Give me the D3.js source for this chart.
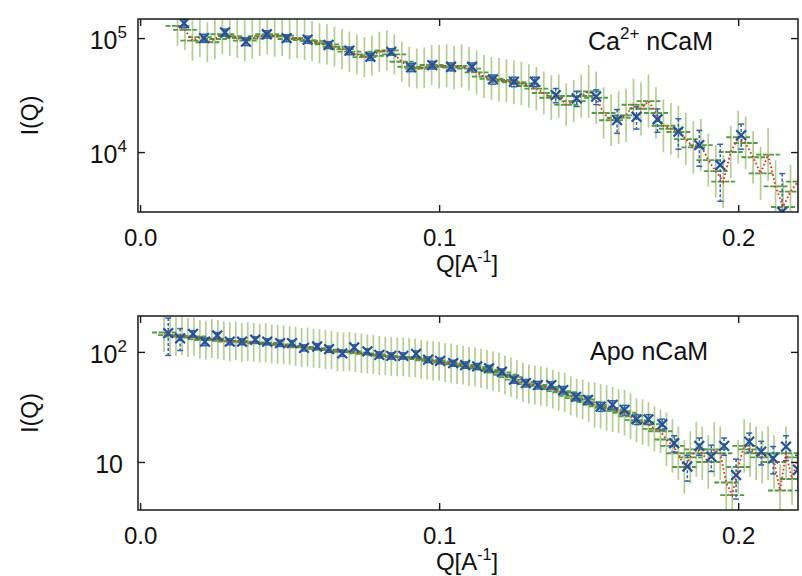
<!DOCTYPE html>
<html>
<head>
<meta charset="utf-8">
<script src="https://cdn.jsdelivr.net/npm/d3@7.9.0/dist/d3.min.js"></script>
<style>
  body { margin: 0; background: #fff; }
  svg { display: block; font-family: "Liberation Sans", Arial, sans-serif; }
</style>
</head>
<body>
<svg id="chart" width="802" height="576"></svg>
<script>
// ---- Ca2+ nCaM (top panel) ----
const caGreenQ = [0.0125, 0.015, 0.0175, 0.02, 0.0225, 0.025, 0.0275, 0.03, 0.0325, 0.035,
  0.0375, 0.04, 0.0425, 0.045, 0.0475, 0.05, 0.0525, 0.055, 0.0575, 0.06,
  0.0625, 0.065, 0.0675, 0.07, 0.0725, 0.075, 0.0775, 0.08, 0.0825, 0.085,
  0.0875, 0.09, 0.0925, 0.095, 0.0975, 0.1, 0.1025, 0.105, 0.1075, 0.11,
  0.1125, 0.115, 0.1175, 0.12, 0.1225, 0.125, 0.1275, 0.13, 0.1325, 0.135,
  0.1375, 0.14, 0.1425, 0.145, 0.1475, 0.15, 0.1525, 0.155, 0.1575, 0.16,
  0.1625, 0.165, 0.1675, 0.17, 0.1725, 0.175, 0.1775, 0.18, 0.1825, 0.185,
  0.1875, 0.19, 0.1925, 0.195, 0.1975, 0.2, 0.2025, 0.205, 0.2075, 0.21,
  0.2125, 0.215, 0.2175, 0.22];
const caGreenI = [128e3, 118e3, 95e3, 102e3, 92e3, 98e3, 108e3, 104e3, 100e3, 95e3,
  99e3, 104e3, 108e3, 103e3, 105e3, 98e3, 100e3, 96e3, 94e3, 90e3,
  88e3, 84e3, 80e3, 76e3, 72e3, 68e3, 70e3, 76e3, 78e3, 72e3,
  62e3, 56e3, 54e3, 55e3, 58e3, 56e3, 57e3, 55e3, 57e3, 54e3,
  50e3, 46e3, 44e3, 43e3, 42e3, 41e3, 40e3, 38e3, 36e3, 33e3,
  30e3, 31e3, 26e3, 28e3, 31e3, 34e3, 30e3, 22e3, 19e3, 20e3,
  21e3, 26e3, 24e3, 28e3, 22e3, 17e3, 16e3, 15e3, 13e3, 11e3,
  11.5e3, 8.5e3, 6.8e3, 5.5e3, 10e3, 13.5e3, 12e3, 9e3, 6.5e3, 9.5e3,
  5e3, 3.3e3, 4.5e3, 5.5e3];
const caGreenErr = [64e3, 59e3, 48e3, 51e3, 46e3, 49e3, 54e3, 52e3, 50e3, 48e3,
  50e3, 52e3, 54e3, 52e3, 53e3, 49e3, 50e3, 48e3, 47e3, 45e3,
  44e3, 42e3, 40e3, 38e3, 36e3, 34e3, 35e3, 38e3, 39e3, 36e3,
  31e3, 28e3, 27e3, 28e3, 29e3, 31e3, 31e3, 30e3, 31e3, 30e3,
  28e3, 25e3, 24e3, 24e3, 23e3, 23e3, 22e3, 21e3, 20e3, 18e3,
  17e3, 17e3, 14e3, 15e3, 17e3, 24e3, 21e3, 15e3, 13e3, 14e3,
  15e3, 18e3, 17e3, 20e3, 15e3, 12e3, 11e3, 10.5e3, 9e3, 7.7e3,
  8e3, 6e3, 4.8e3, 3.9e3, 7e3, 9.5e3, 8.4e3, 6.3e3, 4.6e3, 6.7e3,
  3.5e3, 2.3e3, 3.2e3, 3.9e3];
const caGreenDq = 0.004;

const caBlueQ = [0.0147, 0.0214, 0.0284, 0.0354, 0.0424, 0.049, 0.056, 0.063, 0.070, 0.077,
  0.084, 0.0906, 0.0977, 0.104, 0.111, 0.118, 0.125, 0.132, 0.139, 0.146,
  0.1525, 0.1595, 0.166, 0.173, 0.180, 0.187, 0.194, 0.201, 0.2147];
const caBlueI = [135e3, 100e3, 112e3, 93e3, 108e3, 100e3, 97e3, 87e3, 77.5e3, 68.6e3,
  75.8e3, 55.3e3, 58e3, 56e3, 56e3, 43.4e3, 41.4e3, 41.4e3, 31.6e3, 29.6e3,
  30.6e3, 19.1e3, 20.4e3, 19.4e3, 15.1e3, 11.5e3, 7.7e3, 14.1e3, 2.98e3];
const caBlueErr = [12e3, 8e3, 8e3, 7e3, 8e3, 7e3, 7e3, 6e3, 6e3, 5e3,
  5e3, 4.5e3, 4.5e3, 4.5e3, 4.5e3, 4e3, 4e3, 4e3, 4.5e3, 4.5e3,
  4.5e3, 4.5e3, 4.5e3, 4.5e3, 4.5e3, 4e3, 4e3, 3.5e3, 3.5e3];

// ---- Apo nCaM (bottom panel) ----
const apoGreenQ = [0.008, 0.010, 0.012, 0.014, 0.016, 0.018, 0.020, 0.022, 0.024, 0.026,
  0.028, 0.030, 0.032, 0.034, 0.036, 0.038, 0.040, 0.042, 0.044, 0.046,
  0.048, 0.050, 0.052, 0.054, 0.056, 0.058, 0.060, 0.062, 0.064, 0.066,
  0.068, 0.070, 0.072, 0.074, 0.076, 0.078, 0.080, 0.082, 0.084, 0.086,
  0.088, 0.090, 0.092, 0.094, 0.096, 0.098, 0.100, 0.102, 0.104, 0.106,
  0.108, 0.110, 0.112, 0.114, 0.116, 0.118, 0.120, 0.122, 0.124, 0.126,
  0.128, 0.130, 0.132, 0.134, 0.136, 0.138, 0.140, 0.142, 0.144, 0.146,
  0.148, 0.150, 0.152, 0.154, 0.156, 0.158, 0.160, 0.162, 0.164, 0.166,
  0.168, 0.170, 0.172, 0.174, 0.176, 0.178, 0.180, 0.182, 0.184, 0.186,
  0.188, 0.190, 0.192, 0.194, 0.196, 0.198, 0.200, 0.202, 0.204, 0.206,
  0.208, 0.210, 0.212, 0.214, 0.216, 0.218, 0.220];
const apoGreenI = [150, 142, 138, 140, 135, 138, 130, 128, 132, 130,
  126, 124, 126, 122, 124, 122, 120, 121, 118, 117,
  116, 114, 112, 110, 111, 108, 107, 105, 104, 101,
  100, 101, 99, 97, 96, 95, 93, 92, 91, 90,
  90, 89, 88, 86, 84, 83, 82, 80, 79, 77,
  76, 74, 73, 71, 69, 67, 65, 62, 59, 56,
  53, 51, 50, 49, 48, 46, 44, 43, 40, 38,
  37, 35, 33, 32, 31, 30, 29, 28, 26, 24,
  23, 22, 20, 19, 16, 14, 12, 9, 11, 13,
  12, 10, 13, 12, 6.5, 5, 9, 14, 13, 12,
  11, 12, 10, 5.5, 12, 7, 11];
const apoGreenErr = [75, 71, 69, 70, 68, 69, 65, 64, 66, 65,
  63, 62, 63, 61, 62, 61, 60, 61, 59, 59,
  58, 57, 56, 55, 56, 54, 54, 53, 52, 51,
  50, 51, 50, 49, 48, 48, 47, 46, 46, 45,
  45, 45, 44, 43, 42, 42, 41, 40, 40, 39,
  38, 37, 37, 36, 35, 34, 33, 31, 30, 28,
  27, 26, 25, 25, 24, 23, 22, 22, 20, 19,
  19, 18, 20, 19, 19, 18, 17, 17, 16, 14,
  14, 13, 12, 11, 12, 10.5, 9, 6.8, 8, 10,
  9, 7.5, 10, 9, 4.9, 3.8, 6.8, 10.5, 10, 9,
  8, 9, 7.5, 4, 9, 5, 8];
const apoGreenDq = 0.004;

const apoBlueQ = [0.0094, 0.0134, 0.0177, 0.0217, 0.0258, 0.030, 0.0341, 0.0385, 0.0425, 0.0468,
  0.0508, 0.0548, 0.0592, 0.0632, 0.0676, 0.0716, 0.076, 0.080, 0.084, 0.088,
  0.0923, 0.0963, 0.1003, 0.1047, 0.1087, 0.1127, 0.1167, 0.121, 0.125, 0.129,
  0.133, 0.1375, 0.1415, 0.1458, 0.1498, 0.154, 0.158, 0.162, 0.166, 0.170,
  0.1746, 0.1786, 0.183, 0.187, 0.191, 0.1953, 0.1993, 0.2037, 0.2077, 0.2117,
  0.216, 0.220];
const apoBlueI = [148, 133, 146, 124, 141, 124, 124, 129, 124, 120,
  120, 109, 112, 106, 97, 110, 101, 94, 92, 92,
  96, 85, 83, 79, 76, 74, 71, 66, 56, 52,
  50, 50, 45, 39, 36.6, 31.8, 33, 29.7, 24.4, 24.4,
  22, 14.8, 9.1, 14, 11.2, 14, 7.6, 15.3, 12.4, 10.8,
  13.8, 8.5];
const apoBlueErr = [55, 30, 10, 10, 9, 8, 8, 8, 8, 8,
  7, 7, 7, 7, 6, 6, 6, 6, 6, 6,
  6, 5, 5, 5, 5, 4.5, 4.5, 4, 4, 4,
  4, 3.5, 3.5, 3, 3, 3, 3, 3, 2.5, 2.5,
  2.5, 2.5, 2.4, 2.5, 3, 2.5, 3, 3, 3, 3,
  3.5, 3];

// axis ticks
const xTicks = [0, 0.1, 0.2];
const caYTicks = [1e4, 1e5];
const caYTickSup = ["4", "5"];
const apoYTicks = [10, 100];
const apoYTickSup = ["", "2"];

const svg = d3.select("#chart");
const defs = svg.append("defs");

const panels = [
  { id: "ca", top: 19, bottom: 212, yDomain: [2980, 1.47e5],
    greenQ: caGreenQ, greenI: caGreenI, greenErr: caGreenErr, dq: caGreenDq,
    blueQ: caBlueQ, blueI: caBlueI, blueErr: caBlueErr,
    yTicks: caYTicks, yTickSup: caYTickSup,
    title: ["Ca", "2+", " nCaM"], titleX: 588, titleY: 50 },
  { id: "apo", top: 316, bottom: 510, yDomain: [3.66, 212],
    greenQ: apoGreenQ, greenI: apoGreenI, greenErr: apoGreenErr, dq: apoGreenDq,
    blueQ: apoBlueQ, blueI: apoBlueI, blueErr: apoBlueErr,
    yTicks: apoYTicks, yTickSup: apoYTickSup,
    title: ["Apo nCaM", "", ""], titleX: 590, titleY: 360 }
];

panels.forEach(drawPanel);

function drawPanel(p) {
  const left = 138, right = 798;
  const x = d3.scaleLinear().domain([-0.0007, 0.22]).range([left, right]);
  const y = d3.scaleLog().domain(p.yDomain).range([p.bottom, p.top]);
  const floor = p.yDomain[0] * 0.3;

  defs.append("clipPath").attr("id", "clip-" + p.id)
    .append("rect")
    .attr("x", left).attr("y", p.top)
    .attr("width", right - left).attr("height", p.bottom - p.top);

  const g = svg.append("g");
  const plot = g.append("g").attr("clip-path", `url(#clip-${p.id})`);

  const green = p.greenQ.map((q, i) => ({ q, v: p.greenI[i], e: p.greenErr[i] }));
  const blue = p.blueQ.map((q, i) => ({ q, v: p.blueI[i], e: p.blueErr[i] }));

  // green vertical error bars (drawn symmetric on the log axis)
  plot.selectAll(".gv").data(green).join("line")
    .attr("class", "gv")
    .attr("x1", d => x(d.q)).attr("x2", d => x(d.q))
    .attr("y1", d => y(d.v + d.e))
    .attr("y2", d => y(d.v * d.v / (d.v + d.e)))
    .attr("stroke", "#adc883").attr("stroke-width", 1.7).attr("stroke-opacity", 0.9);

  // green horizontal (dashed) bars
  plot.selectAll(".gh").data(green).join("line")
    .attr("class", "gh")
    .attr("x1", d => x(d.q - p.dq)).attr("x2", d => x(d.q + p.dq))
    .attr("y1", d => y(d.v)).attr("y2", d => y(d.v))
    .attr("stroke", "#4f9e3d").attr("stroke-width", 1.9)
    .attr("stroke-dasharray", "5,1.5");

  // blue dashed error bars with caps
  const be = plot.selectAll(".be").data(blue).join("g").attr("class", "be")
    .attr("stroke", "#2d63b6").attr("stroke-width", 1.5);
  be.append("line")
    .attr("x1", d => x(d.q)).attr("x2", d => x(d.q))
    .attr("y1", d => y(d.v + d.e)).attr("y2", d => y(Math.max(d.v - d.e, floor)))
    .attr("stroke-dasharray", "3,2");
  be.append("line")
    .attr("x1", d => x(d.q) - 3).attr("x2", d => x(d.q) + 3)
    .attr("y1", d => y(d.v + d.e)).attr("y2", d => y(d.v + d.e));
  be.append("line")
    .attr("x1", d => x(d.q) - 3).attr("x2", d => x(d.q) + 3)
    .attr("y1", d => y(Math.max(d.v - d.e, floor))).attr("y2", d => y(Math.max(d.v - d.e, floor)));

  // red dotted curve
  plot.append("path").datum(green)
    .attr("d", d3.line().x(d => x(d.q)).y(d => y(d.v)))
    .attr("fill", "none").attr("stroke", "#e2301c")
    .attr("stroke-width", 1.9).attr("stroke-dasharray", "1.6,2.4");

  // blue x markers
  plot.selectAll(".bx").data(blue).join("path")
    .attr("class", "bx")
    .attr("transform", d => `translate(${x(d.q)},${y(d.v)})`)
    .attr("d", d3.symbol(d3.symbolTimes, 64))
    .attr("fill", "none").attr("stroke", "#1f52a6").attr("stroke-width", 2.2);

  // frame
  g.append("rect")
    .attr("x", left).attr("y", p.top)
    .attr("width", right - left).attr("height", p.bottom - p.top)
    .attr("fill", "none").attr("stroke", "#1a1a1a").attr("stroke-width", 1.5);

  // ticks (inward on all sides)
  const tickStyle = sel => {
    sel.select(".domain").remove();
    sel.selectAll(".tick line").attr("stroke", "#1a1a1a").attr("stroke-width", 1.4);
  };
  g.append("g").attr("transform", `translate(0,${p.bottom})`)
    .call(d3.axisBottom(x).tickValues(xTicks).tickSize(-7).tickPadding(17).tickFormat(d3.format(".1f")))
    .call(tickStyle)
    .call(s => s.selectAll("text").attr("font-size", 24).attr("fill", "#111")
      .attr("font-family", '"Liberation Sans", Arial, sans-serif'));
  g.append("g").attr("transform", `translate(0,${p.top})`)
    .call(d3.axisTop(x).tickValues(xTicks).tickSize(-7).tickFormat(""))
    .call(tickStyle);
  g.append("g").attr("transform", `translate(${left},0)`)
    .call(d3.axisLeft(y).tickValues(p.yTicks).tickSize(-7).tickFormat(""))
    .call(tickStyle);
  g.append("g").attr("transform", `translate(${right},0)`)
    .call(d3.axisRight(y).tickValues(p.yTicks).tickSize(-7).tickFormat(""))
    .call(tickStyle);

  // y tick labels with superscript powers
  p.yTicks.forEach((t, i) => {
    const sup = p.yTickSup[i];
    const txt = g.append("text")
      .attr("x", sup ? 127 : 123).attr("y", y(t) + 11)
      .attr("text-anchor", "end").attr("font-size", 25).attr("fill", "#111");
    txt.append("tspan").text("10");
    if (sup) txt.append("tspan").attr("font-size", 17).attr("dy", -11).text(sup);
  });

  // axis titles
  g.append("text")
    .attr("transform", `translate(38,${(p.top + p.bottom) / 2}) rotate(-90)`)
    .attr("text-anchor", "middle").attr("font-size", 23).attr("fill", "#111")
    .text("I(Q)");

  const xl = g.append("text")
    .attr("x", 467).attr("y", p.bottom + 60)
    .attr("text-anchor", "middle").attr("font-size", 24).attr("fill", "#111");
  xl.append("tspan").text("Q[A");
  xl.append("tspan").attr("font-size", 16).attr("dy", -10).text("-1");
  xl.append("tspan").attr("dy", 10).text("]");

  // panel label
  const tl = g.append("text")
    .attr("x", p.titleX).attr("y", p.titleY)
    .attr("font-size", 25).attr("fill", "#111");
  tl.append("tspan").text(p.title[0]);
  if (p.title[1]) {
    tl.append("tspan").attr("font-size", 17).attr("dy", -11).text(p.title[1]);
    tl.append("tspan").attr("dy", 11).text(p.title[2]);
  }
}
</script>
</body>
</html>
